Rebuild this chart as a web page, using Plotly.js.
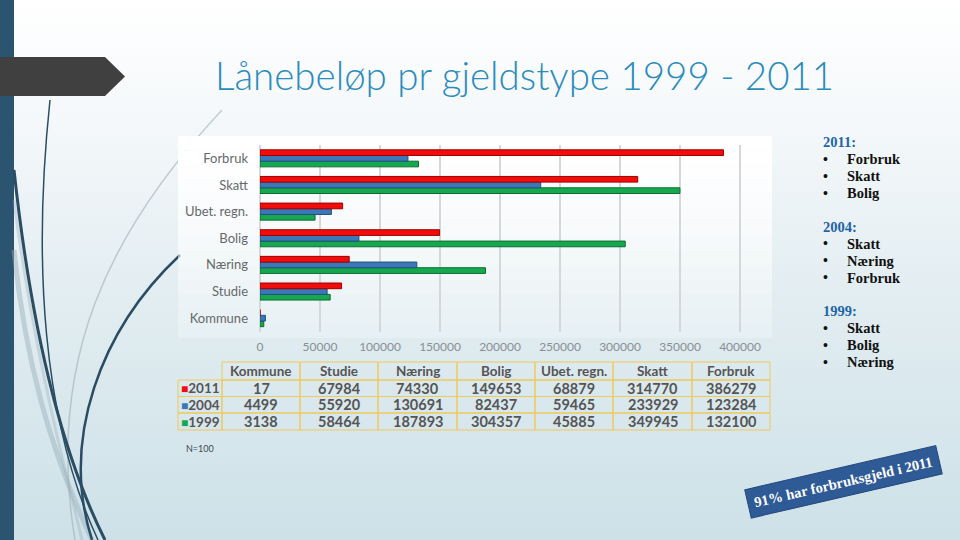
<!DOCTYPE html>
<html>
<head>
<meta charset="utf-8">
<script src="https://cdn.plot.ly/plotly-3.0.1.min.js"></script>
<style>
html,body{margin:0;padding:0;}
body{width:960px;height:540px;overflow:hidden;
background:linear-gradient(to bottom,#ffffff 0%,#f3f7f9 25%,#e2edf1 55%,#cde1e8 100%);}
#chart{width:960px;height:540px;}
</style>
</head>
<body>
<div id="chart"></div>
<script>
// ---- data ----
const categories = ['Kommune','Studie','Næring','Bolig','Ubet. regn.','Skatt','Forbruk'];
const years = ['2011','2004','1999'];
const v2011 = [17,67984,74330,149653,68879,314770,386279];
const v2004 = [4499,55920,130691,82437,59465,233929,123284];
const v1999 = [3138,58464,187893,304357,45885,349945,132100];
const xTicks = [0,50000,100000,150000,200000,250000,300000,350000,400000];
const titleText = 'Lånebeløp pr gjeldstype 1999 - 2011';
const noteHeads = ['2011:','2004:','1999:'];
const noteItems = [['Forbruk','Skatt','Bolig'],['Skatt','Næring','Forbruk'],['Skatt','Bolig','Næring']];
const sampleNote = 'N=100';
const bannerText = '91% har forbruksgjeld i 2011';

// ---- styles ----
const W = 960, H = 540;
const fx = x => x / W;
const fy = y => 1 - y / H;
const colors = {'2011':'#f20d0d','2004':'#3a78b8','1999':'#16a84e'};
const lineColors = {'2011':'#a00000','2004':'#245080','1999':'#0b6e30'};
const seriesByYear = {'2011':v2011,'2004':v2004,'1999':v1999};

// bars: first trace is drawn lowest in each group
const traces = ['1999','2004','2011'].map(yr => ({
  type:'bar', orientation:'h', name:yr,
  y:categories, x:seriesByYear[yr],
  marker:{color:colors[yr], line:{color:lineColors[yr], width:1}},
  xaxis:'x', yaxis:'y', hoverinfo:'skip'
}));

const shapes = [];
const ann = [];

// left stripe
shapes.push({type:'rect', xref:'paper', yref:'paper', x0:0, x1:fx(14), y0:0, y1:1, fillcolor:'#2b5470', line:{width:0}, layer:'below'});
// decorative curves (pixel control points)
function curve(pts){
  let s = 'M '+fx(pts[0][0])+','+fy(pts[0][1]);
  s += ' C '+pts.slice(1).map(p=>fx(p[0])+','+fy(p[1])).join(' ');
  return s;
}
const curves = [
  {p:[[14,250],[25,360],[50,450],[92,540]], c:'rgba(150,172,185,0.45)', w:5},
  {p:[[14,200],[30,330],[60,450],[82,540]], c:'rgba(150,172,185,0.35)', w:3},
  {p:[[222,110],[110,230],[45,360],[75,540]], c:'rgba(160,175,185,0.6)', w:1.5},
  {p:[[14,170],[28,300],[55,440],[105,540]], c:'#2b4d63', w:3},
  {p:[[50,100],[33,260],[42,420],[98,540]], c:'#2b4d63', w:1.5},
  {p:[[180,255],[100,330],[60,440],[92,540]], c:'#2b4d63', w:2.5}
];
curves.forEach(cv=>shapes.push({type:'path', xref:'paper', yref:'paper', path:curve(cv.p), line:{color:cv.c, width:cv.w}, layer:'below'}));
// arrow
shapes.push({type:'path', xref:'paper', yref:'paper',
  path:'M 0,'+fy(57)+' L '+fx(105)+','+fy(57)+' L '+fx(125)+','+fy(76.5)+' L '+fx(105)+','+fy(96)+' L 0,'+fy(96)+' Z',
  fillcolor:'#404040', line:{width:0}, layer:'below'});
// chart white area (fading bands)
const bandN = 14, bandTop = 136, bandBottom = 338;
for(let i=0;i<bandN;i++){
  const y0 = bandTop + (bandBottom-bandTop)*i/bandN, y1 = bandTop + (bandBottom-bandTop)*(i+1)/bandN;
  shapes.push({type:'rect', xref:'paper', yref:'paper', x0:fx(178), x1:fx(772), y0:fy(y1), y1:fy(y0),
    fillcolor:'rgba(255,255,255,'+(1-0.75*i/(bandN-1)).toFixed(3)+')', line:{width:0}, layer:'below'});
}

// ---- data table (built from the arrays) ----
const border = '#efc95a';
const colEdges = [178,222,300,378,457,535,613,692,770];
const rowEdges = [362,380,396.5,413,430];
const tFont = {family:'Lato', size:14.5, color:'#555555', weight:'bold'};
const yFont = {family:'Lato', size:13.5, color:'#555555', weight:'bold'};
const hFont = {family:'Lato', size:13.5, color:'#555555', weight:'bold'};
function cellRect(c, r){
  shapes.push({type:'rect', xref:'paper', yref:'paper', x0:fx(colEdges[c]), x1:fx(colEdges[c+1]),
    y0:fy(rowEdges[r+1]), y1:fy(rowEdges[r]), line:{color:border, width:1}, fillcolor:'rgba(0,0,0,0)', layer:'above'});
}
function cellText(c, r, text, font){
  ann.push({xref:'paper', yref:'paper', x:fx((colEdges[c]+colEdges[c+1])/2), y:fy((rowEdges[r]+rowEdges[r+1])/2),
    xanchor:'center', yanchor:'middle', showarrow:false, text:text, font:font});
}
categories.forEach((cat,i)=>{ cellRect(i+1,0); cellText(i+1,0,cat,hFont); });
years.forEach((yr,r)=>{
  cellRect(0,r+1);
  cellText(0,r+1,'<span style="color:'+colors[yr]+';font-size:12px">■</span>'+yr,yFont);
  categories.forEach((cat,i)=>{
    cellRect(i+1,r+1);
    cellText(i+1,r+1,String(seriesByYear[yr][i]),tFont);
  });
});

// ---- texts ----
ann.push({xref:'paper', yref:'paper', x:fx(213), y:fy(75), xanchor:'left', yanchor:'middle', showarrow:false,
  text:titleText, font:{family:'Lato', size:38.5, color:'#2a8cbd', weight:300}});
let yy = 142;
noteHeads.forEach((h,gi)=>{
  ann.push({xref:'paper', yref:'paper', x:fx(821), y:fy(yy), xanchor:'left', yanchor:'middle', showarrow:false,
    text:'<b>'+h+'</b>', font:{family:'Liberation Serif', size:14.5, color:'#1f64a8'}});
  yy += 17;
  noteItems[gi].forEach(it=>{
    ann.push({xref:'paper', yref:'paper', x:fx(821), y:fy(yy), xanchor:'left', yanchor:'middle', showarrow:false,
      text:'<b>•</b>', font:{family:'Liberation Serif', size:14, color:'#111111'}});
    ann.push({xref:'paper', yref:'paper', x:fx(845), y:fy(yy), xanchor:'left', yanchor:'middle', showarrow:false,
      text:'<b>'+it+'</b>', font:{family:'Liberation Serif', size:14.5, color:'#111111'}});
    yy += 17;
  });
  yy += 16.5;
});
ann.push({xref:'paper', yref:'paper', x:fx(184), y:fy(448), xanchor:'left', yanchor:'middle', showarrow:false,
  text:sampleNote, font:{family:'Lato', size:9, color:'#404a55'}});
ann.push({xref:'paper', yref:'paper', x:fx(843), y:fy(482), xanchor:'center', yanchor:'middle', showarrow:false,
  text:'<b>'+bannerText+'</b>', textangle:-13, bgcolor:'#2e5a96', borderpad:6,
  bordercolor:'#24487a', borderwidth:1,
  font:{family:'Liberation Serif', size:14.5, color:'#ffffff'}});

const layout = {
  width:W, height:H,
  margin:{l:0,r:0,t:0,b:0},
  paper_bgcolor:'rgba(0,0,0,0)', plot_bgcolor:'rgba(0,0,0,0)',
  showlegend:false,
  barmode:'group', bargap:0.36, bargroupgap:0,
  xaxis:{domain:[fx(260),fx(770)], range:[0,425000], tickvals:xTicks, ticktext:xTicks.map(String),
    showgrid:true, gridcolor:'#d4d8db', gridwidth:1.5, zeroline:true, zerolinecolor:'#d4d8db', zerolinewidth:1.5,
    showline:false, ticks:'', ticklabelstandoff:6, tickfont:{family:'Lato', size:12, color:'#8a8f94'}, fixedrange:true},
  yaxis:{domain:[fy(331.5),fy(145)], type:'category', categoryorder:'array', categoryarray:categories,
    showgrid:false, zeroline:false, showline:false, ticks:'', ticklabelstandoff:11,
    tickfont:{family:'Lato', size:13, color:'#66696c'}, fixedrange:true},
  shapes:shapes,
  annotations:ann
};

Plotly.newPlot('chart', traces, layout, {displayModeBar:false, staticPlot:true});
</script>
</body>
</html>
